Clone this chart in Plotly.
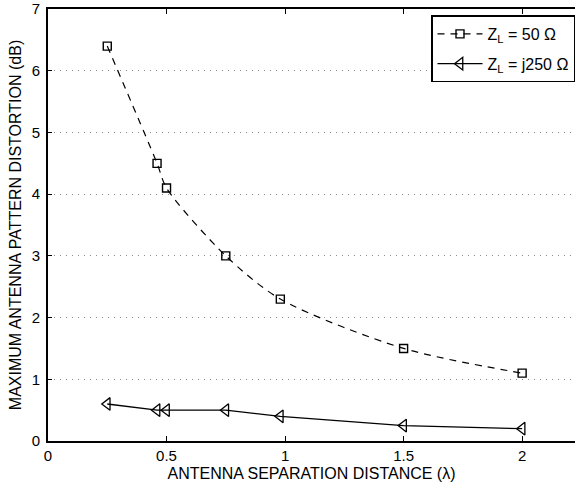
import plotly.graph_objects as go

# Antenna separation distance (wavelengths)
separation = [0.25, 0.46, 0.50, 0.75, 0.98, 1.50, 2.00]

# Maximum pattern distortion (dB) for each load impedance
dist_50ohm = [6.4, 4.5, 4.1, 3.0, 2.3, 1.5, 1.1]
dist_j250ohm = [0.6, 0.5, 0.5, 0.5, 0.4, 0.25, 0.2]

series_names = ["Z<sub>L</sub> = 50 Ω", "Z<sub>L</sub> = j250 Ω"]

y_ticks = [0, 1, 2, 3, 4, 5, 6, 7]
x_ticks = [0, 0.5, 1, 1.5, 2]
x_tick_text = ["0", "0.5", "1", "1.5", "2"]

FONT = "Liberation Sans, Arial, Helvetica, sans-serif"

fig = go.Figure()

fig.add_trace(go.Scatter(
    x=separation, y=dist_50ohm, name=series_names[0], legendgroup="a",
    mode="lines+markers",
    line=dict(color="black", width=1.2, dash="7px,6px", shape="spline", smoothing=0.8),
    marker=dict(symbol="square-open", size=8, color="black", line=dict(width=1.4)),
))

fig.add_trace(go.Scatter(
    x=separation, y=dist_j250ohm, name=series_names[1], legendgroup="b",
    mode="lines+markers",
    line=dict(color="black", width=1.3),
    marker=dict(symbol="triangle-left-open", size=11, color="black", line=dict(width=1.3)),
))

fig.update_layout(
    width=575, height=485,
    margin=dict(l=47.5, r=0, t=9, b=43.5),
    paper_bgcolor="white", plot_bgcolor="white",
    font=dict(family=FONT, size=15, color="black"),
    xaxis=dict(
        range=[0, 2.223], tickvals=x_ticks, ticktext=x_tick_text,
        showgrid=False, zeroline=False,
        showline=True, linecolor="black", linewidth=1.8, mirror="ticks",
        ticks="inside", ticklen=5, tickwidth=1, tickcolor="black",
        tickfont=dict(size=15),
        title=dict(text="ANTENNA SEPARATION DISTANCE (λ)", font=dict(size=16), standoff=5),
    ),
    yaxis=dict(
        range=[0, 7.001], tickvals=y_ticks, ticklabeloverflow="allow",
        showgrid=True, gridcolor="#8c8c8c", griddash="1px,5px", gridwidth=1,
        zeroline=False,
        showline=True, linecolor="black", linewidth=1.8, mirror=False,
        ticks="inside", ticklen=4, tickwidth=1, tickcolor="black",
        tickfont=dict(size=15), ticklabelstandoff=3,
        title=dict(text="MAXIMUM ANTENNA PATTERN DISTORTION (dB)", font=dict(size=16), standoff=6),
    ),
    legend=dict(
        x=1.0, y=0.985, xanchor="right", yanchor="top",
        bgcolor="white", bordercolor="black", borderwidth=1.5,
        font=dict(size=16), tracegroupgap=6, itemwidth=45,
    ),
    showlegend=True,
)

fig.write_html("out.html")
